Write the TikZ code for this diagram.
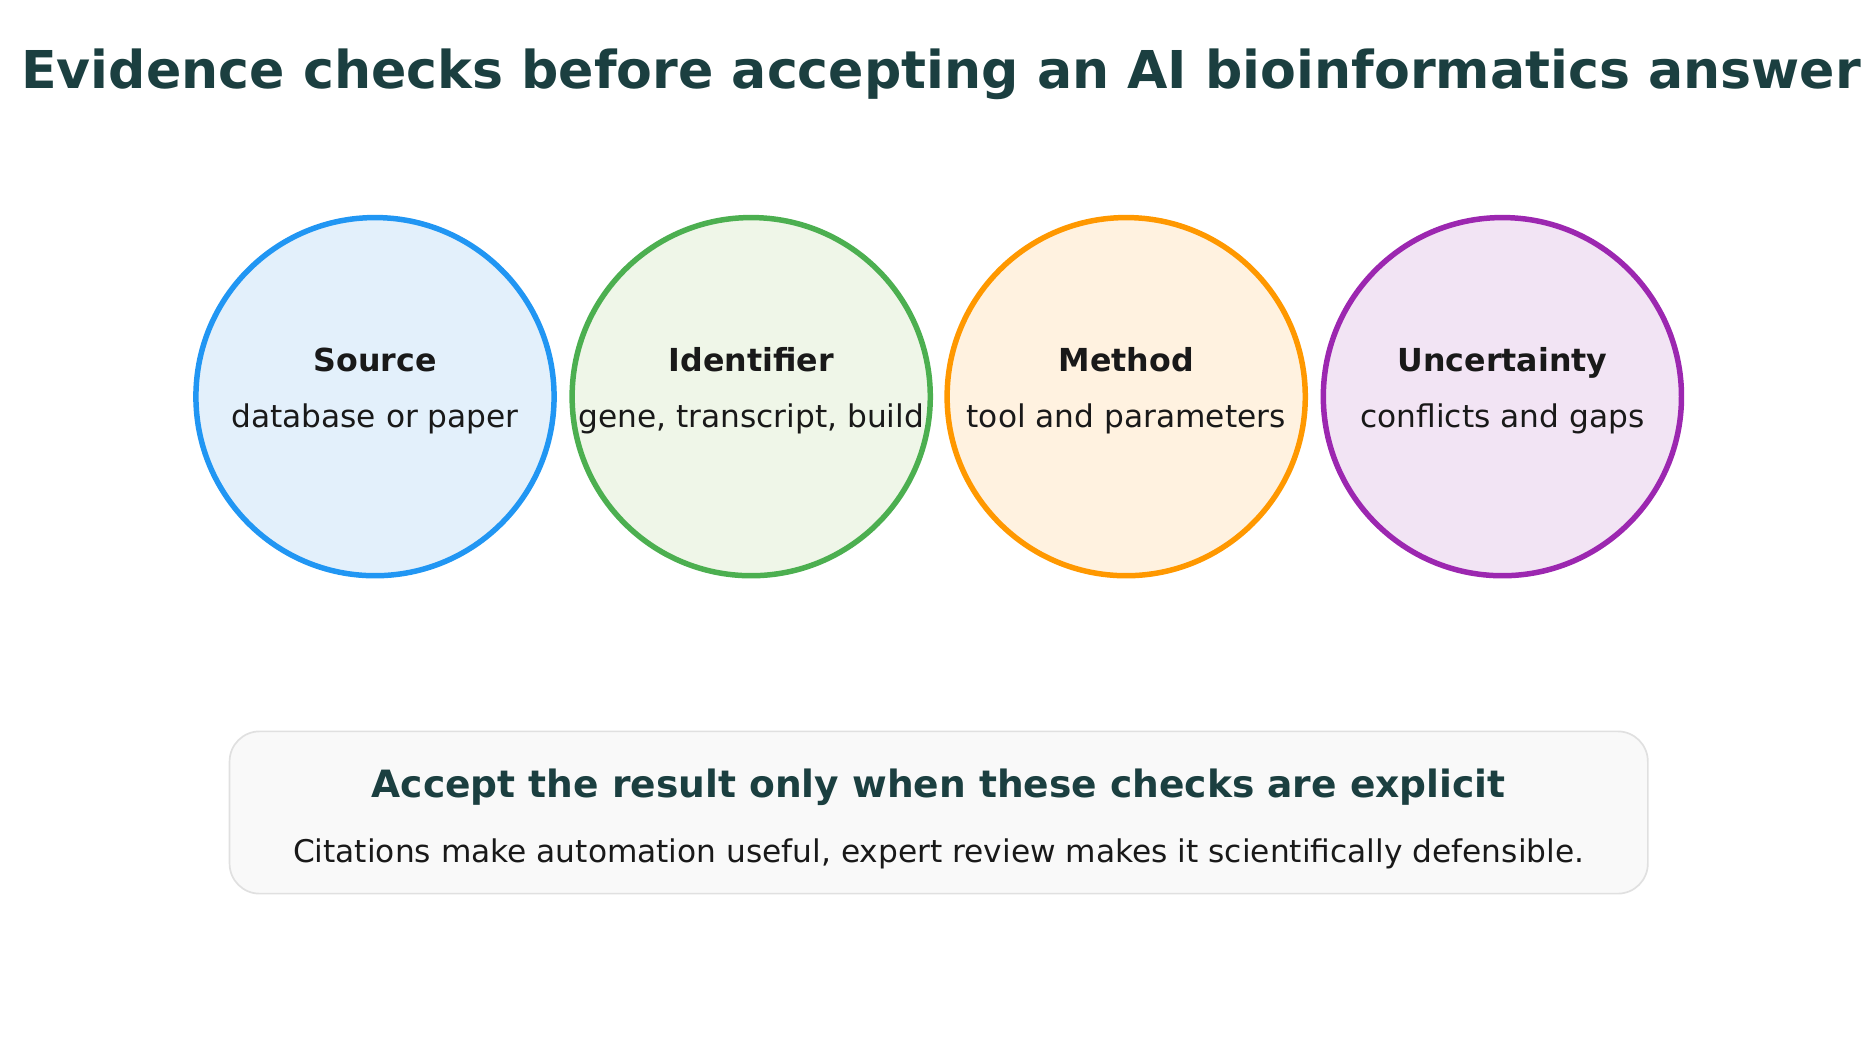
\documentclass[tikz,border=0pt]{standalone}
\usepackage{fontspec}
\setmainfont{DejaVu Sans}
\begin{document}
\begin{tikzpicture}[x=0.02cm,y=-0.02cm,
  circ/.style={circle,minimum size=298*0.02cm,line width=2.6pt,inner sep=0pt},
  hd/.style={font=\fontsize{15}{17}\selectfont\bfseries,text=black!90,anchor=base},
  sb/.style={font=\fontsize{14.8}{17}\selectfont,text=black!90}]
\definecolor{ttl}{HTML}{1B3F40}
\useasboundingbox (0,0) rectangle (1560,867);
\node[font=\fontsize{24.7}{29}\selectfont\bfseries,text=ttl] (title) at (783,62) {Evidence checks before accepting an AI bioinformatics answer};
\foreach \n/\x/\dc/\fc/\h/\s in {a/312/2196F3/E3F0FB/Source/database or paper,
  b/625/4CAF50/EFF6E8/Identifier/{gene, transcript, build},
  c/937/FF9800/FFF2E0/Method/tool and parameters,
  d/1250/9C27B0/F2E4F4/Uncertainty/conflicts and gaps}{
  \definecolor{dc}{HTML}{\dc}\definecolor{fc}{HTML}{\fc}
  \node[circ,draw=dc,fill=fc] (\n) at (\x,330) {};
  \node[hd] (\n h) at (\x,309) {\h};
  \node[sb,anchor=base] (\n s) at (\x,356) {\s};
}
\node[draw=black!12,fill=black!2.5,rounded corners=0.5cm,line width=0.8pt,minimum width=1180*0.02cm,minimum height=135*0.02cm] (box) at (781,676) {};
\node[font=\fontsize{17.8}{21}\selectfont\bfseries,text=ttl] (bt) at (781,655) {Accept the result only when these checks are explicit};
\node[sb] (bs) at (781,710) {Citations make automation useful, expert review makes it scientifically defensible.};
\end{tikzpicture}
\end{document}
